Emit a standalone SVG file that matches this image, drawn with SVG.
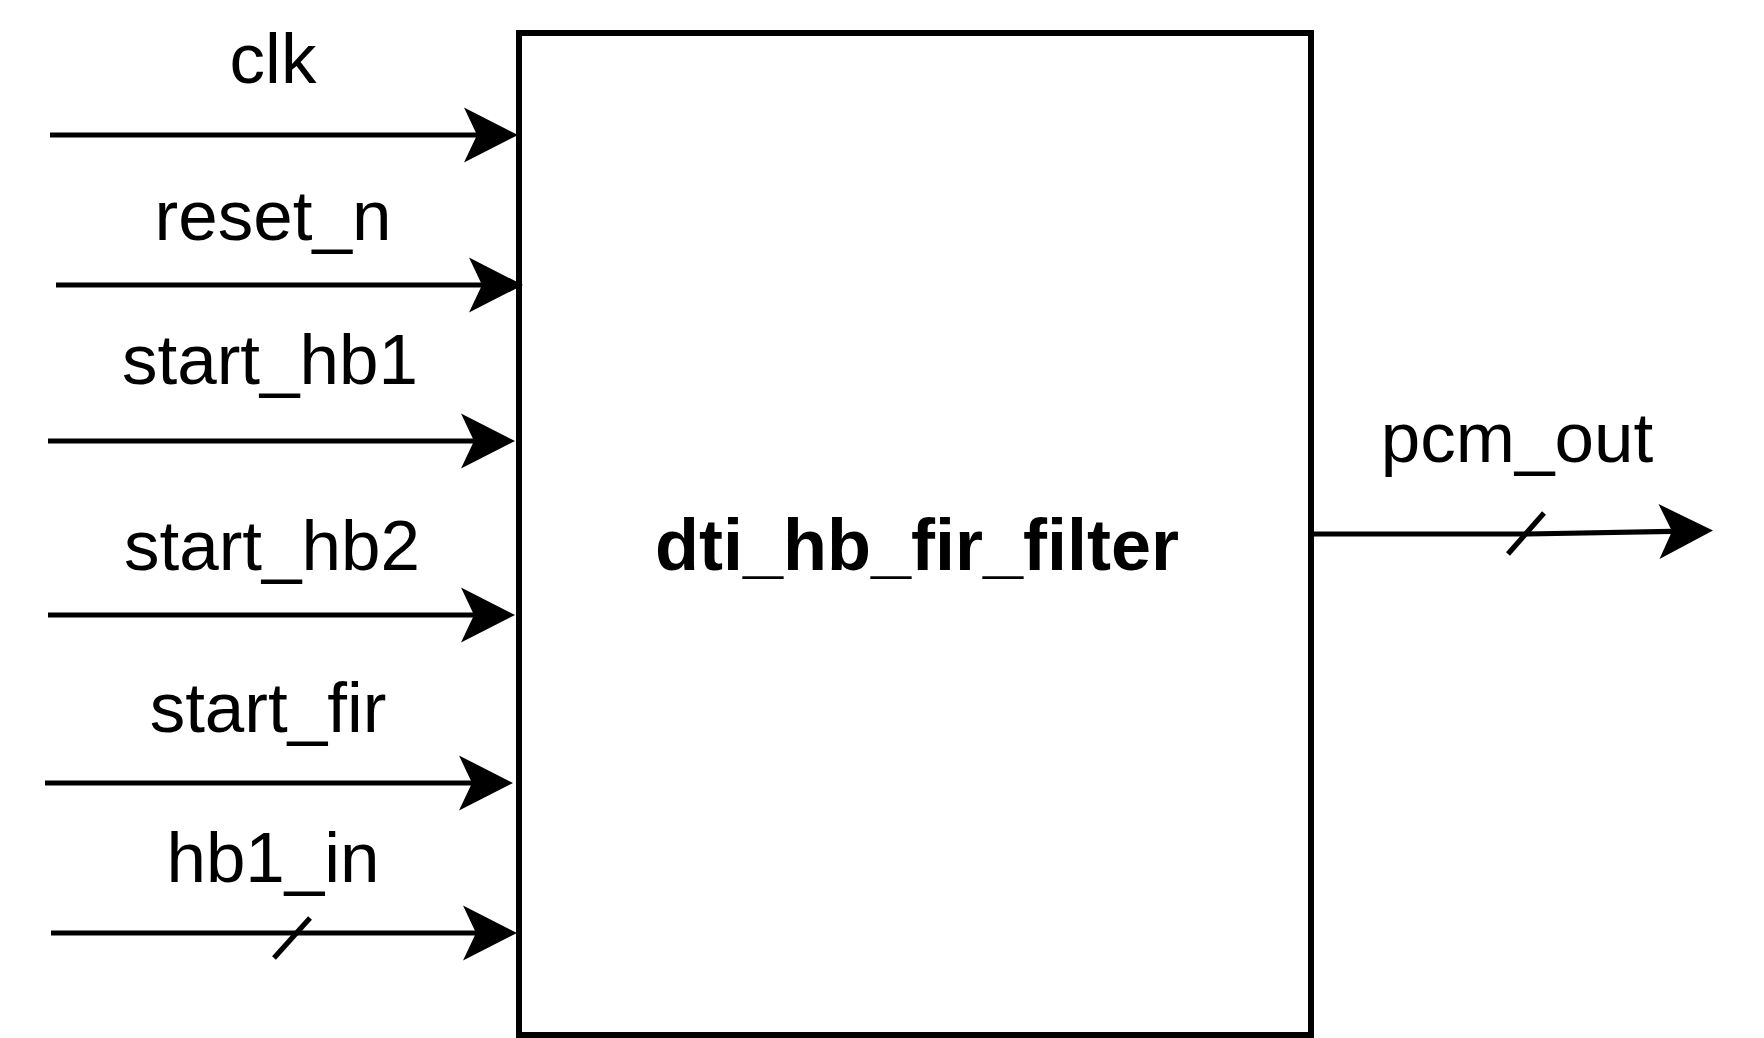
<svg xmlns="http://www.w3.org/2000/svg" width="1764" height="1038" viewBox="0 0 1764 1038">
<style>
.lbl{font-family:"Liberation Sans",Arial,sans-serif;font-size:71px;fill:#000;text-anchor:middle}
.title{font-weight:bold;font-size:72px}
.wire{stroke:#000;stroke-width:5.2;fill:none}
.box{stroke:#000;stroke-width:6;fill:#fff}
</style>
<defs>
<marker id="arr" markerUnits="userSpaceOnUse" markerWidth="60" markerHeight="60" refX="13" refY="27.5" orient="auto" overflow="visible">
<path d="M0,0 L54,27.5 L0,55 L13,27.5 Z" fill="#000"/>
</marker>
</defs>
<rect width="1764" height="1038" fill="#fff"/>
<g id="block">
<rect class="box" x="519" y="33" width="792" height="1002"/>
<text class="lbl title" x="917" y="570">dti_hb_fir_filter</text>
</g>
<g id="connectors">
<line class="wire" x1="50" y1="135" x2="477" y2="135" marker-end="url(#arr)"/>
<line class="wire" x1="56" y1="285" x2="482" y2="285" marker-end="url(#arr)"/>
<line class="wire" x1="48" y1="441" x2="474" y2="441" marker-end="url(#arr)"/>
<line class="wire" x1="48" y1="615" x2="474" y2="615" marker-end="url(#arr)"/>
<line class="wire" x1="45" y1="783" x2="472" y2="783" marker-end="url(#arr)"/>
<line class="wire" x1="51" y1="933" x2="476" y2="933" marker-end="url(#arr)"/>
<line class="wire" x1="274" y1="958" x2="310" y2="918"/>
<polyline class="wire" points="1311,534 1527,534 1672,531.3" marker-end="url(#arr)"/>
<line class="wire" x1="1508" y1="554" x2="1544" y2="513"/>
</g>
<g id="labels">
<text class="lbl" x="273" y="83">clk</text>
<text class="lbl" x="273" y="240">reset_n</text>
<text class="lbl" x="270" y="384">start_hb1</text>
<text class="lbl" x="272" y="570">start_hb2</text>
<text class="lbl" x="268" y="732">start_fir</text>
<text class="lbl" x="273" y="882">hb1_in</text>
<text class="lbl" x="1517" y="462">pcm_out</text>
</g>
</svg>
